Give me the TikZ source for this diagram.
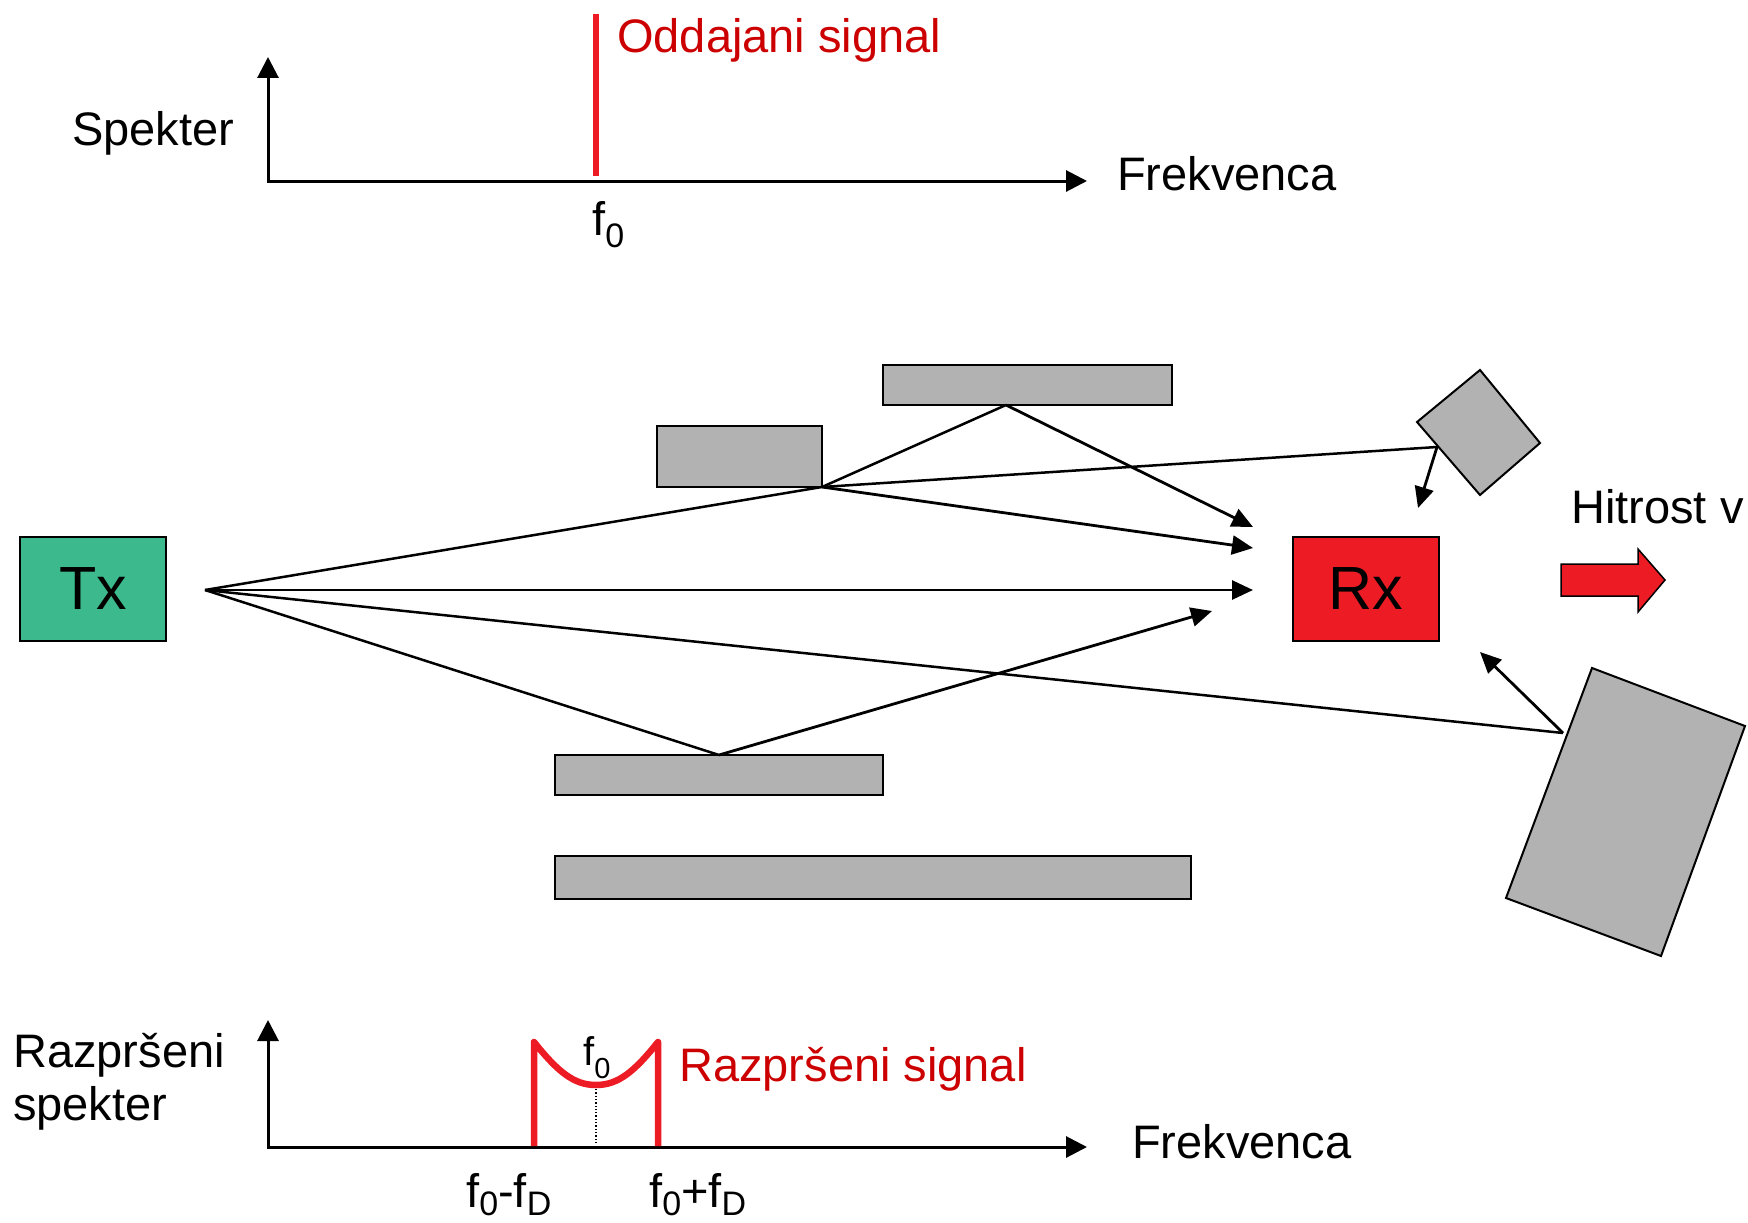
\documentclass[tikz,border=0pt]{standalone}
\usepackage{fontspec}
\setmainfont{Liberation Sans}
\usetikzlibrary{arrows.meta}
\definecolor{txgreen}{RGB}{60,186,142}
\definecolor{rxred}{RGB}{237,28,36}
\definecolor{txtred}{RGB}{204,0,0}
\definecolor{boxgray}{RGB}{178,178,178}
\newcommand\subz[3]{\raisebox{-#1pt}{\fontsize{#2}{#2}\selectfont #3}}
\begin{document}
\begin{tikzpicture}[x=1pt,y=-1pt,
  lbl/.style={inner sep=0pt,anchor=base west,font=\fontsize{47}{56}\selectfont},
  redlbl/.style={lbl,text=txtred},
  station/.style={draw=black,line width=2pt,minimum width=146pt,minimum height=104pt,inner sep=0pt,font=\fontsize{61}{70}\selectfont},
  obst/.style={draw=black,line width=2pt,fill=boxgray},
  ray/.style={line width=2.5pt},
  rayarr/.style={line width=2.8pt,-{Triangle[length=21pt,width=19pt]}},
  axis/.style={line width=3pt,line join=miter,{Triangle[length=21pt,width=21pt]}-{Triangle[length=21pt,width=21pt]}},
  spec/.style={draw=rxred,line width=6.5pt}
]
\useasboundingbox[fill=white] (0,0) rectangle (1748,1223);

% ---------- top spectrum ----------
\coordinate (a1o) at (268,181);
\coordinate (a1y) at (268,57);
\coordinate (a1x) at (1087,181);
\draw[axis] (a1y) -- (a1o) -- (a1x);
\coordinate (s1b) at (596,176);
\coordinate (s1t) at (596,14);
\draw[spec] (s1b) -- (s1t);
\node[lbl] (spek) at (72,145) {Spekter};
\node[redlbl] (odd) at (617,53) {Oddajani signal};
\node[lbl] (frek1) at (1117,190) {Frekvenca};
\node[lbl] (f0a) at (592,235) {f\subz{12}{34}{0}};

% ---------- obstacles ----------
\draw[obst] (657,426) rectangle (822,487);
\draw[obst] (883,365) rectangle (1172,405);
\draw[obst] (555,755) rectangle (883,795);
\draw[obst] (555,856) rectangle (1191,899);
\draw[obst] (1480,370) -- (1540,443) -- (1480,495) -- (1417,422) -- cycle;
\draw[obst] (1592,668) -- (1745,726) -- (1661,956) -- (1506,898) -- cycle;

% ---------- stations ----------
\node[station,fill=txgreen] (tx) at (93,588.5) {Tx};
\node[station,fill=rxred] (rx) at (1365.5,589) {Rx};

% ---------- propagation paths ----------
\coordinate (src) at (205,590);
\coordinate (r1) at (822,487);
\coordinate (r2) at (1006,405);
\coordinate (r3) at (719,755);
\coordinate (r4) at (1437,447);
\coordinate (r5) at (1563,733);
\coordinate (e0) at (1253,590);
\coordinate (e1) at (1253,548);
\coordinate (e2) at (1253,527);
\coordinate (e3) at (1212,611);
\coordinate (e4) at (1418,508);
\coordinate (e5) at (1480,652);

\draw[ray] (src) -- (r1);
\draw[ray] (r1) -- (r2);
\draw[ray] (r1) -- (r4);
\draw[ray] (src) -- (r3);
\draw[ray] (src) -- (r5);
\draw[rayarr] (src) -- (e0);
\draw[rayarr] (r1) -- (e1);
\draw[rayarr] (r2) -- (e2);
\draw[rayarr] (r3) -- (e3);
\draw[rayarr] (r4) -- (e4);
\draw[rayarr] (r5) -- (e5);

% ---------- velocity ----------
\draw[line width=1.5pt,fill=rxred,line join=miter] (1561,564) -- (1638,564) -- (1638,549) -- (1665,580) -- (1638,612) -- (1638,596) -- (1561,596) -- cycle;
\node[lbl] (hit) at (1571,523) {Hitrost v};

% ---------- bottom spectrum ----------
\coordinate (a2o) at (268,1147);
\coordinate (a2y) at (268,1020);
\coordinate (a2x) at (1087,1147);
\draw[axis] (a2y) -- (a2o) -- (a2x);
\coordinate (bl) at (534,1146);
\coordinate (blt) at (534,1042);
\coordinate (bm) at (596,1085);
\coordinate (brt) at (658,1042);
\coordinate (br) at (658,1146);
\draw[spec,line join=round] (bl) -- (blt) .. controls (558,1072) and (574,1085) .. (bm) .. controls (618,1085) and (634,1072) .. (brt) -- (br);
\coordinate (dtop) at (596,1089);
\coordinate (dbot) at (596,1145);
\draw[line width=1.3pt,dotted] (dtop) -- (dbot);
\node[lbl] (raz) at (13,1067) {Razpršeni};
\node[lbl] (spk2) at (13,1120) {spekter};
\node[redlbl] (rsig) at (679,1081) {Razpršeni signal};
\node[lbl] (frek2) at (1132,1158) {Frekvenca};
\node[lbl,font=\fontsize{40}{48}\selectfont] (f0b) at (583,1065) {f\subz{13}{29}{0}};
\node[lbl] (fm) at (466,1207) {f\subz{8}{34}{0}-f\subz{8}{34}{D}};
\node[lbl] (fp) at (649,1207) {f\subz{8}{34}{0}+f\subz{8}{34}{D}};
\end{tikzpicture}
\end{document}
